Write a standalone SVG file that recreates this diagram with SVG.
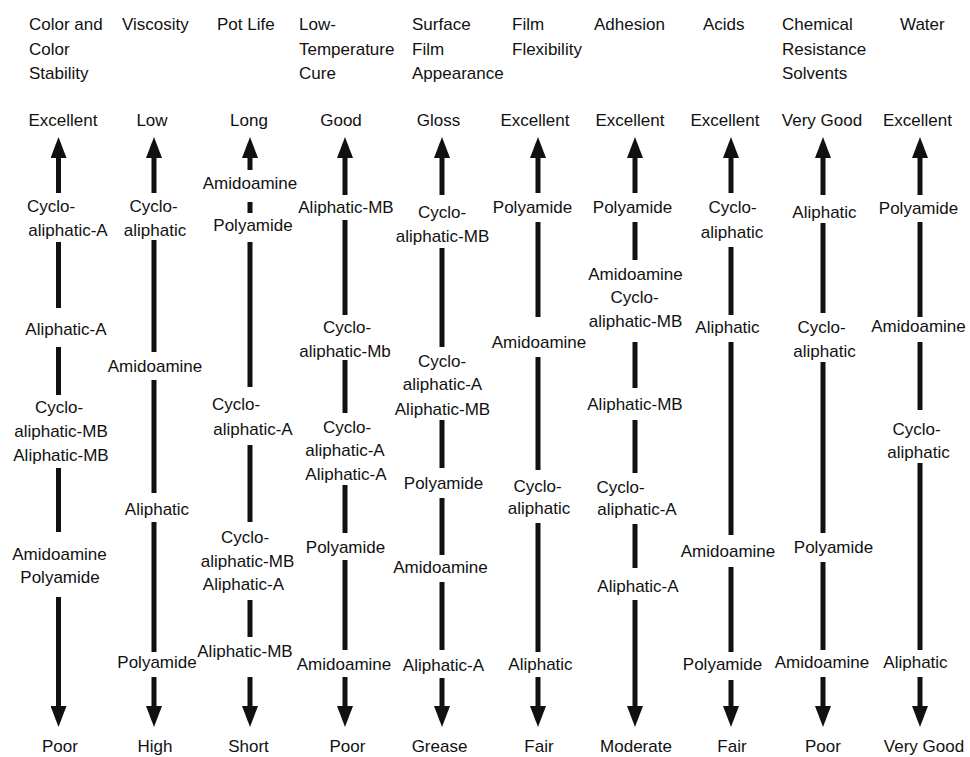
<svg xmlns="http://www.w3.org/2000/svg" width="970" height="757" viewBox="0 0 970 757">
<defs>
<style>
text{font-family:"Liberation Sans",Arial,Helvetica,sans-serif;font-size:17px;fill:#111;}
.c{text-anchor:middle;}
.s{stroke:#111;stroke-width:5;fill:none;}
</style>
<marker id="ah" markerUnits="userSpaceOnUse" markerWidth="21" markerHeight="16" viewBox="0 0 21 16" refX="0" refY="8" orient="auto">
<path d="M0,0 L21,8 L0,16 z" fill="#111"/>
</marker>
</defs>
<rect width="970" height="757" fill="#fff"/>

<g id="headers">
<text x="29" y="30">Color and</text><text x="29" y="55">Color</text><text x="29" y="79">Stability</text>
<text x="122" y="30">Viscosity</text>
<text x="217" y="30">Pot Life</text>
<text x="299" y="30">Low-</text><text x="299" y="55">Temperature</text><text x="299" y="79">Cure</text>
<text x="412" y="30">Surface</text><text x="412" y="55">Film</text><text x="412" y="79">Appearance</text>
<text x="512" y="30">Film</text><text x="512" y="55">Flexibility</text>
<text x="594" y="30">Adhesion</text>
<text x="703" y="30">Acids</text>
<text x="782" y="30">Chemical</text><text x="782" y="55">Resistance</text><text x="782" y="79">Solvents</text>
<text x="900" y="30">Water</text>
</g>

<g id="top-labels" class="c">
<text class="c" x="63" y="126">Excellent</text>
<text class="c" x="152" y="126">Low</text>
<text class="c" x="249" y="126">Long</text>
<text class="c" x="341" y="126">Good</text>
<text class="c" x="438.5" y="126">Gloss</text>
<text class="c" x="535" y="126">Excellent</text>
<text class="c" x="630" y="126">Excellent</text>
<text class="c" x="725" y="126">Excellent</text>
<text class="c" x="822" y="126">Very Good</text>
<text class="c" x="917.5" y="126">Excellent</text>
</g>

<g id="bottom-labels">
<text class="c" x="60" y="752">Poor</text>
<text class="c" x="155" y="752">High</text>
<text class="c" x="248.5" y="752">Short</text>
<text class="c" x="347.5" y="752">Poor</text>
<text class="c" x="439.5" y="752">Grease</text>
<text class="c" x="539" y="752">Fair</text>
<text class="c" x="636" y="752">Moderate</text>
<text class="c" x="732" y="752">Fair</text>
<text class="c" x="823" y="752">Poor</text>
<text class="c" x="924" y="752">Very Good</text>
</g>

<g id="col1-nodes">
<g id="c1n1"><text class="c" x="51" y="212">Cyclo-</text><text class="c" x="68" y="236">aliphatic-A</text></g>
<g id="c1n2"><text class="c" x="66" y="335">Aliphatic-A</text></g>
<g id="c1n3"><text class="c" x="59" y="413">Cyclo-</text><text class="c" x="61" y="437">aliphatic-MB</text><text class="c" x="61" y="461">Aliphatic-MB</text></g>
<g id="c1n4"><text class="c" x="59.5" y="560">Amidoamine</text><text class="c" x="60" y="583">Polyamide</text></g>
</g>

<g id="col2-nodes">
<g id="c2n1"><text class="c" x="153.5" y="212">Cyclo-</text><text class="c" x="155" y="236">aliphatic</text></g>
<g id="c2n2"><text class="c" x="155" y="372">Amidoamine</text></g>
<g id="c2n3"><text class="c" x="157" y="515">Aliphatic</text></g>
<g id="c2n4"><text class="c" x="157" y="668">Polyamide</text></g>
</g>

<g id="col3-nodes">
<g id="c3n1"><text class="c" x="250" y="189">Amidoamine</text></g>
<g id="c3n2"><text class="c" x="253" y="231">Polyamide</text></g>
<g id="c3n3"><text class="c" x="236" y="410">Cyclo-</text><text class="c" x="253" y="435">aliphatic-A</text></g>
<g id="c3n4"><text class="c" x="245" y="543">Cyclo-</text><text class="c" x="247.5" y="567">aliphatic-MB</text><text class="c" x="243.5" y="590">Aliphatic-A</text></g>
<g id="c3n5"><text class="c" x="245" y="657">Aliphatic-MB</text></g>
</g>

<g id="col4-nodes">
<g id="c4n1"><text class="c" x="346" y="213">Aliphatic-MB</text></g>
<g id="c4n2"><text class="c" x="347" y="333">Cyclo-</text><text class="c" x="345" y="357">aliphatic-Mb</text></g>
<g id="c4n3"><text class="c" x="347" y="433">Cyclo-</text><text class="c" x="345" y="456">aliphatic-A</text><text class="c" x="346" y="480">Aliphatic-A</text></g>
<g id="c4n4"><text class="c" x="345.5" y="553">Polyamide</text></g>
<g id="c4n5"><text class="c" x="344" y="670">Amidoamine</text></g>
</g>

<g id="col5-nodes">
<g id="c5n1"><text class="c" x="442" y="218">Cyclo-</text><text class="c" x="442.5" y="242">aliphatic-MB</text></g>
<g id="c5n2"><text class="c" x="442" y="367">Cyclo-</text><text class="c" x="442.5" y="390">aliphatic-A</text><text class="c" x="442.5" y="415">Aliphatic-MB</text></g>
<g id="c5n3"><text class="c" x="443.5" y="489">Polyamide</text></g>
<g id="c5n4"><text class="c" x="440.5" y="573">Amidoamine</text></g>
<g id="c5n5"><text class="c" x="443.5" y="671">Aliphatic-A</text></g>
</g>

<g id="col6-nodes">
<g id="c6n1"><text class="c" x="532.5" y="213">Polyamide</text></g>
<g id="c6n2"><text class="c" x="539" y="348">Amidoamine</text></g>
<g id="c6n3"><text class="c" x="537.5" y="492">Cyclo-</text><text class="c" x="539" y="514">aliphatic</text></g>
<g id="c6n4"><text class="c" x="540.5" y="670">Aliphatic</text></g>
</g>

<g id="col7-nodes">
<g id="c7n1"><text class="c" x="632.5" y="213">Polyamide</text></g>
<g id="c7n2"><text class="c" x="635.5" y="280">Amidoamine</text><text class="c" x="634.5" y="303">Cyclo-</text><text class="c" x="635.5" y="327">aliphatic-MB</text></g>
<g id="c7n3"><text class="c" x="635" y="410">Aliphatic-MB</text></g>
<g id="c7n4"><text class="c" x="620.5" y="493">Cyclo-</text><text class="c" x="637" y="515">aliphatic-A</text></g>
<g id="c7n5"><text class="c" x="638" y="592">Aliphatic-A</text></g>
</g>

<g id="col8-nodes">
<g id="c8n1"><text class="c" x="732.5" y="213">Cyclo-</text><text class="c" x="732" y="238">aliphatic</text></g>
<g id="c8n2"><text class="c" x="727.5" y="333">Aliphatic</text></g>
<g id="c8n3"><text class="c" x="728" y="557">Amidoamine</text></g>
<g id="c8n4"><text class="c" x="722.5" y="670">Polyamide</text></g>
</g>

<g id="col9-nodes">
<g id="c9n1"><text class="c" x="824.5" y="218">Aliphatic</text></g>
<g id="c9n2"><text class="c" x="821.5" y="333">Cyclo-</text><text class="c" x="824.5" y="357">aliphatic</text></g>
<g id="c9n3"><text class="c" x="833.5" y="553">Polyamide</text></g>
<g id="c9n4"><text class="c" x="822" y="668">Amidoamine</text></g>
</g>

<g id="col10-nodes">
<g id="c10n1"><text class="c" x="918.5" y="214">Polyamide</text></g>
<g id="c10n2"><text class="c" x="918.5" y="332">Amidoamine</text></g>
<g id="c10n3"><text class="c" x="916.5" y="435">Cyclo-</text><text class="c" x="918.5" y="458">aliphatic</text></g>
<g id="c10n4"><text class="c" x="915.5" y="668">Aliphatic</text></g>
</g>

<g id="connectors" class="s">
<!-- col1 -->
<line x1="58.5" y1="193" x2="58.5" y2="158" marker-end="url(#ah)"/>
<line x1="58.5" y1="242" x2="58.5" y2="308"/>
<line x1="58.5" y1="347" x2="58.5" y2="395"/>
<line x1="58.5" y1="468" x2="58.5" y2="532"/>
<line x1="58.5" y1="597" x2="58.5" y2="706" marker-end="url(#ah)"/>
<!-- col2 -->
<line x1="154" y1="193" x2="154" y2="158" marker-end="url(#ah)"/>
<line x1="154" y1="240" x2="154" y2="352"/>
<line x1="154" y1="380" x2="154" y2="493"/>
<line x1="154" y1="522" x2="154" y2="652"/>
<line x1="154" y1="677" x2="154" y2="706" marker-end="url(#ah)"/>
<!-- col3 -->
<line x1="250" y1="170" x2="250" y2="158" marker-end="url(#ah)"/>
<line x1="250" y1="202" x2="250" y2="213"/>
<line x1="250" y1="242" x2="250" y2="387"/>
<line x1="250" y1="445" x2="250" y2="522"/>
<line x1="250" y1="600" x2="250" y2="637"/>
<line x1="250" y1="677" x2="250" y2="706" marker-end="url(#ah)"/>
<!-- col4 -->
<line x1="345" y1="195" x2="345" y2="158" marker-end="url(#ah)"/>
<line x1="345" y1="220" x2="345" y2="315"/>
<line x1="345" y1="360" x2="345" y2="413"/>
<line x1="345" y1="485" x2="345" y2="533"/>
<line x1="345" y1="560" x2="345" y2="650"/>
<line x1="345" y1="677" x2="345" y2="706" marker-end="url(#ah)"/>
<!-- col5 -->
<line x1="442" y1="195" x2="442" y2="158" marker-end="url(#ah)"/>
<line x1="442" y1="248" x2="442" y2="347"/>
<line x1="442" y1="420" x2="442" y2="468"/>
<line x1="442" y1="498" x2="442" y2="555"/>
<line x1="442" y1="582" x2="442" y2="650"/>
<line x1="442" y1="678" x2="442" y2="706" marker-end="url(#ah)"/>
<!-- col6 -->
<line x1="538" y1="193" x2="538" y2="158" marker-end="url(#ah)"/>
<line x1="538" y1="222" x2="538" y2="317"/>
<line x1="538" y1="357" x2="538" y2="470"/>
<line x1="538" y1="523" x2="538" y2="652"/>
<line x1="538" y1="677" x2="538" y2="706" marker-end="url(#ah)"/>
<!-- col7 -->
<line x1="635" y1="193" x2="635" y2="158" marker-end="url(#ah)"/>
<line x1="635" y1="222" x2="635" y2="260"/>
<line x1="635" y1="342" x2="635" y2="388"/>
<line x1="635" y1="420" x2="635" y2="473"/>
<line x1="635" y1="524" x2="635" y2="568"/>
<line x1="635" y1="600" x2="635" y2="706" marker-end="url(#ah)"/>
<!-- col8 -->
<line x1="731" y1="193" x2="731" y2="158" marker-end="url(#ah)"/>
<line x1="731" y1="247" x2="731" y2="315"/>
<line x1="731" y1="342" x2="731" y2="535"/>
<line x1="731" y1="567" x2="731" y2="652"/>
<line x1="731" y1="680" x2="731" y2="706" marker-end="url(#ah)"/>
<!-- col9 -->
<line x1="823" y1="195" x2="823" y2="158" marker-end="url(#ah)"/>
<line x1="823" y1="223" x2="823" y2="313"/>
<line x1="823" y1="362" x2="823" y2="533"/>
<line x1="823" y1="562" x2="823" y2="650"/>
<line x1="823" y1="677" x2="823" y2="706" marker-end="url(#ah)"/>
<!-- col10 -->
<line x1="920" y1="195" x2="920" y2="158" marker-end="url(#ah)"/>
<line x1="920" y1="222" x2="920" y2="317"/>
<line x1="920" y1="342" x2="920" y2="410"/>
<line x1="920" y1="463" x2="920" y2="650"/>
<line x1="920" y1="677" x2="920" y2="706" marker-end="url(#ah)"/>
</g>
</svg>
